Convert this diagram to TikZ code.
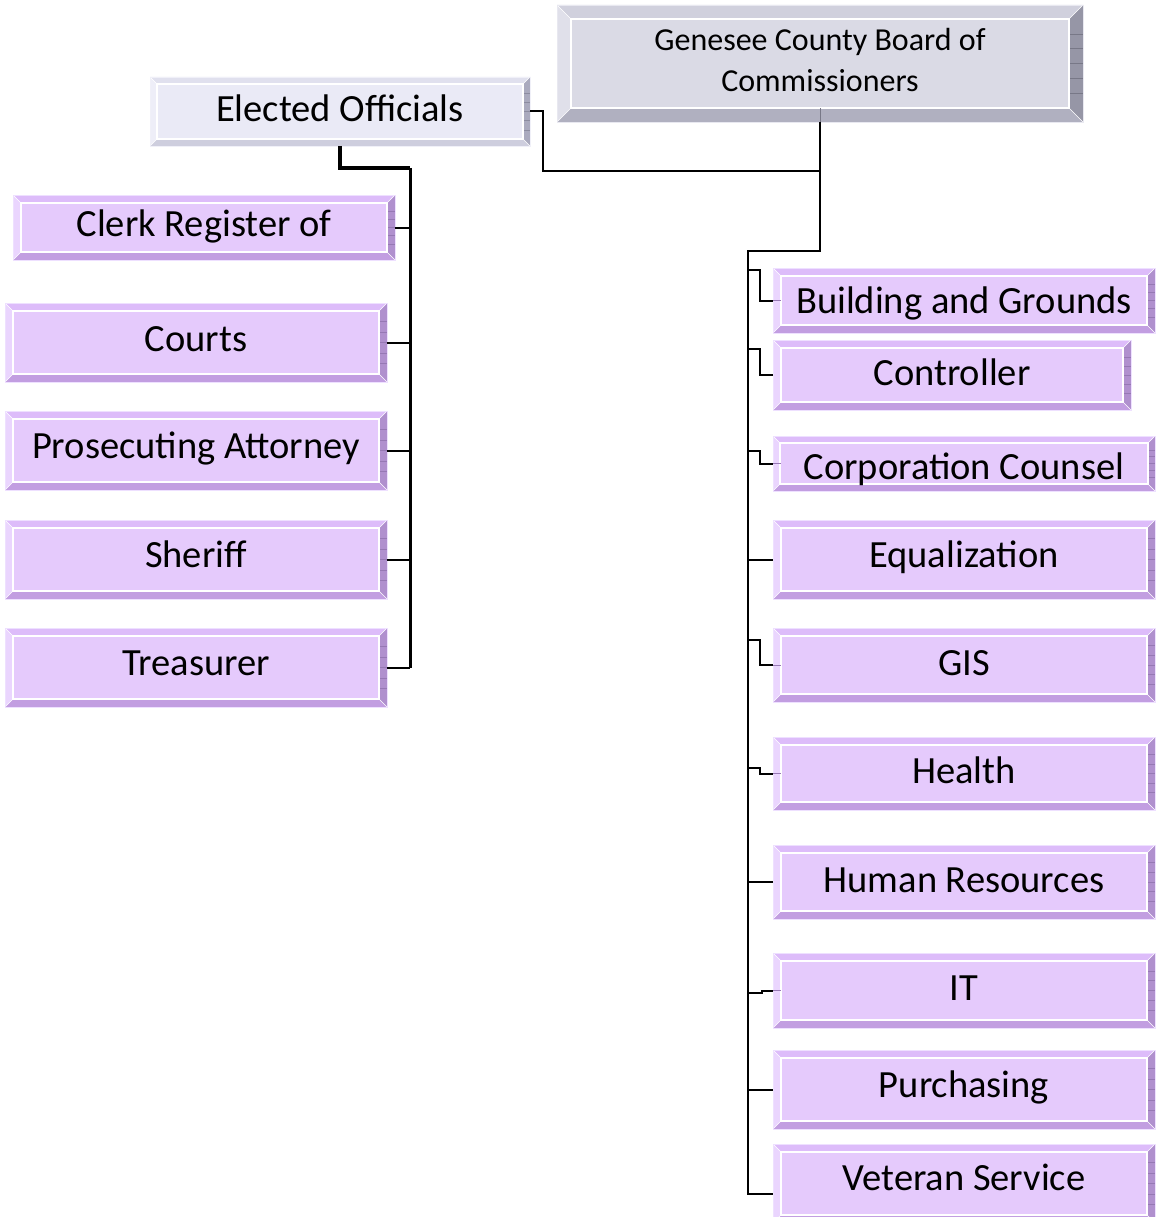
\documentclass[tikz,border=0pt]{standalone}
\usepackage{fontspec}
\setmainfont{Carlito}
\usetikzlibrary{calc}
\definecolor{pface}{RGB}{229,202,252}
\definecolor{ptop}{RGB}{221,188,250}
\definecolor{pleft}{RGB}{234,213,254}
\definecolor{pbot}{RGB}{194,158,225}
\definecolor{pright}{RGB}{176,144,206}
\definecolor{pline}{RGB}{150,120,180}
\definecolor{pedge}{RGB}{238,224,255}
\definecolor{eface}{RGB}{234,234,246}
\definecolor{etop}{RGB}{224,224,238}
\definecolor{eleft}{RGB}{238,238,248}
\definecolor{ebot}{RGB}{206,206,222}
\definecolor{eright}{RGB}{170,170,190}
\definecolor{eline}{RGB}{140,140,160}
\definecolor{eedge}{RGB}{240,240,248}
\definecolor{gface}{RGB}{218,218,229}
\definecolor{gtop}{RGB}{208,208,221}
\definecolor{gleft}{RGB}{224,224,234}
\definecolor{gbot}{RGB}{176,176,192}
\definecolor{gright}{RGB}{150,150,166}
\definecolor{gline}{RGB}{120,120,135}
\definecolor{gedge}{RGB}{232,232,240}
\tikzset{
  bevel/.style n args={2}{draw=#1edge, line width=0.8pt, fill=#1face,
    inner sep=0pt, outer sep=0pt, align=center,
    path picture={
      \coordinate (bvA) at (path picture bounding box.north west);
      \coordinate (bvB) at (path picture bounding box.north east);
      \coordinate (bvC) at (path picture bounding box.south east);
      \coordinate (bvD) at (path picture bounding box.south west);
      \coordinate (bva) at ($(bvA)+(#2pt,-#2pt)$);
      \coordinate (bvb) at ($(bvB)+(-#2pt,-#2pt)$);
      \coordinate (bvc) at ($(bvC)+(-#2pt,#2pt)$);
      \coordinate (bvd) at ($(bvD)+(#2pt,#2pt)$);
      \fill[#1top] (bvA)--(bvB)--(bvb)--(bva)--cycle;
      \fill[#1left] (bvA)--(bva)--(bvd)--(bvD)--cycle;
      \fill[#1bot] (bvD)--(bvd)--(bvc)--(bvC)--cycle;
      \fill[#1right] (bvB)--(bvC)--(bvc)--(bvb)--cycle;
      \foreach \k in {1,...,5}
        \draw[#1line, line width=0.5pt] ($(bvb)!\k/6!(bvc)$) -- ++(#2pt,0);
      \draw[white, line width=1.6pt] (bva) rectangle (bvc);
      \draw[white, line width=0.6pt] (bvA)--(bva) (bvB)--(bvb) (bvC)--(bvc) (bvD)--(bvd);
    }},
  % #1 = text height, sets the baseline below the node centre
  pbox/.style={bevel={p}{8}, font=\fontsize{38.5}{44}\selectfont,
    text height=#1, text depth=10pt, minimum width=382pt},
  link/.style={draw=black, line width=2pt},
  tick/.style={draw=pline, line width=1pt}
}
\begin{document}
\begin{tikzpicture}[x=1pt,y=-1pt]
\useasboundingbox (0,0) rectangle (1156,1217);
% top boxes
\node[bevel={g}{14}, minimum width=526pt, minimum height=117pt,
  font=\fontsize{32}{41}\selectfont, text height=66pt, text depth=10.4pt] (gen) at (820,63.5)
  {Genesee County Board of\\Commissioners};
\node[bevel={e}{7}, minimum width=380pt, minimum height=69pt,
  font=\fontsize{38.5}{44}\selectfont, text height=30pt, text depth=10pt] (eo) at (340,111.5) {Elected Officials};
% left column
\node[pbox=28pt, minimum height=65pt] (clerk) at (204,227.5) {Clerk Register of};
\node[pbox=27pt, minimum height=79pt] (courts) at (196,342.5) {Courts};
\node[pbox=26pt, minimum height=79pt] (pros) at (196,450.5) {Prosecuting Attorney};
\node[pbox=26pt, minimum height=79pt] (sher) at (196,559.5) {Sheriff};
\node[pbox=26pt, minimum height=79pt] (tre) at (196,667.5) {Treasurer};
% right column
\node[pbox=35pt, minimum height=65pt] (bg) at (964,300.5) {Building and Grounds};
\node[pbox=30pt, minimum width=358pt, minimum height=70pt] (ctrl) at (952,375) {Controller};
\node[pbox=41pt, minimum height=55pt, bevel={p}{7}] (corp) at (964,463.5) {Corporation Counsel};
\node[pbox=26pt, minimum height=79pt] (equ) at (964,559.5) {Equalization};
\node[pbox=31pt, minimum height=74pt] (gis) at (964,665) {GIS};
\node[pbox=30pt, minimum height=73pt] (hea) at (964,773.5) {Health};
\node[pbox=31pt, minimum height=74pt] (hr) at (964,882) {Human Resources};
\node[pbox=30pt, minimum height=75pt] (it) at (964,990.5) {IT};
\node[pbox=26pt, minimum height=79pt] (pur) at (964,1089.5) {Purchasing};
\node[pbox=24pt, minimum height=79pt] (vet) at (964,1183.5) {Veteran Service};
% left connectors
\coordinate (lbus) at (410,168);
\draw[line width=3.5pt] (eo.south) |- (lbus);
\draw[line width=3pt] (lbus) -- (lbus |- tre.east);
\foreach \n in {clerk,courts,pros,sher,tre}
  \draw[link] (\n.east) -- (\n.east -| lbus);
% top connectors
\coordinate (rtop) at ($(gen.south)+(0,129)$);
\coordinate (ejoin) at ($(gen.south)+(0,49)$);
\coordinate (rbus) at (748,251);
\draw[tick, draw=gline] (gen.south) -- ++(0,-14);
\draw[link] (gen.south) -- (rtop) -- (rbus) |- ($(vet.west)+(0,10.5)$);
\draw[link] (eo.east) -- ++(13,0) |- (ejoin);
% right connectors
\draw[link] (bg.west) -- ++(-13,0) -- ++(0,-30.5) -- ++(-12,0);
\draw[link] (ctrl.west) -- ++(-13,0) -- ++(0,-26) -- ++(-12,0);
\draw[link] (corp.west) -- ++(-13,0) -- ++(0,-12.5) -- ++(-12,0);
\draw[link] (gis.west) -- ++(-13,0) -- ++(0,-25) -- ++(-12,0);
\draw[link] (hea.west) -- ++(-13,0) -- ++(0,-5.5) -- ++(-12,0);
\draw[link] (it.west) -- ++(-11,0) -- ++(0,2.5) -- ++(-14,0);
\foreach \n in {equ,hr,pur}
  \draw[link] (\n.west) -- (\n.west -| rbus);
\foreach \n in {bg,corp,gis,hea,it}
  \draw[tick] (\n.west) -- ++(8,0);
\end{tikzpicture}
\end{document}
